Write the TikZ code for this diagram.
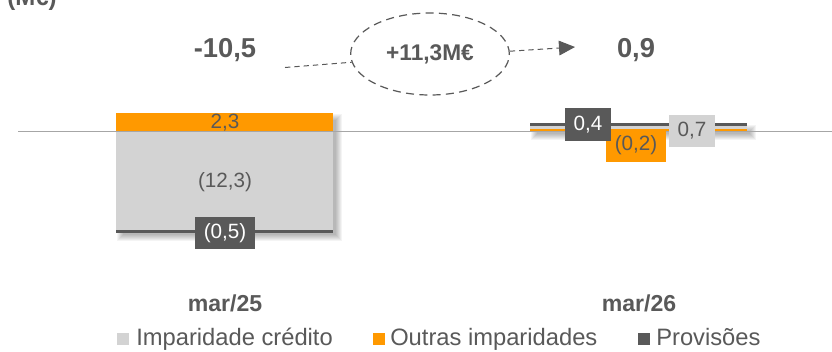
\documentclass[tikz,border=0pt]{standalone}
\usepackage{fontspec}
\setmainfont{Liberation Sans}
\usetikzlibrary{shapes.geometric,arrows.meta}
\definecolor{cOr}{HTML}{FF9900}
\definecolor{cLg}{HTML}{D3D3D3}
\definecolor{cDk}{HTML}{595959}
\definecolor{cAx}{HTML}{A6A6A6}
\tikzset{
  lbl/.style={inner sep=0pt, text=cDk, font=\fontsize{15.5}{18}\selectfont},
  valbox/.style={inner sep=0pt, minimum height=24.5pt, font=\fontsize{15.5}{18}\selectfont},
  big/.style={inner sep=0pt, text=cDk, font=\bfseries\fontsize{20.5}{24}\selectfont},
  cat/.style={inner sep=0pt, text=cDk, font=\bfseries\fontsize{17.3}{20}\selectfont},
  leg/.style={inner sep=0pt, anchor=base west, text=cDk, font=\fontsize{17.8}{20}\selectfont},
  legsq/.style={inner sep=0pt, minimum size=9pt, anchor=south west},
  dline/.style={cDk, line width=0.75pt, dash pattern=on 4pt off 3pt},
}
\newcommand{\softshadow}[4]{%
  \foreach \r in {4,3,2,1,0,-1,-2}{%
    \fill[black, opacity=0.045] ({#1+5-\r},{#2+5-\r}) rectangle ({#3+5+\r},{#4+5+\r});}}
\begin{document}
\begin{tikzpicture}[x=0.75pt,y=-0.75pt]
\useasboundingbox (0,0) rectangle (832,351);
\fill[white] (0,0) rectangle (832,351);

% unit label (cut at top, as in the reference)
\node[inner sep=0pt, anchor=base west, text=cDk, font=\bfseries\fontsize{18}{20}\selectfont] (unit) at (7,5.5) {(M€)};

% shadows
\softshadow{116}{113}{333}{232}
\softshadow{530}{123.5}{747}{131}

% left stacked bar
\fill[cLg] (116,131) rectangle (333,230);
\fill[cOr] (116,113) rectangle (333,131);
\fill[cDk] (116,229.5) rectangle (333,232.5);

% right stacked bar
\fill[cLg] (530,126) rectangle (747,131);
\fill[cOr] (530,129.3) rectangle (747,131);
\fill[cDk] (530,123.3) rectangle (747,126.3);

% axis
\draw[cAx, line width=1.2pt] (18,131.5) -- (832,131.5);

% value labels
\node[lbl] (v23) at (225,122.5) {2,3};
\node[lbl] (v123) at (225,182) {(12,3)};
\node[valbox, fill=cDk, text=white, minimum width=45pt] (v05) at (225,233) {(0,5)};

\node[valbox, fill=cOr, text=cDk, minimum width=45pt] (v02) at (636,145.5) {(0,2)};
\node[valbox, fill=cDk, text=white, minimum width=34.5pt] (v04) at (588,124.5) {0,4};
\node[valbox, fill=cLg, text=cDk, minimum width=34.5pt] (v07) at (692,131) {0,7};

% totals
\node[big] (t1) at (225,50) {-10,5};
\node[big] (t2) at (636,50) {0,9};

% variation ellipse
\node[ellipse, draw=cDk, line width=0.9pt, dash pattern=on 6pt off 4pt,
      minimum width=119pt, minimum height=61.5pt, inner sep=0pt,
      text=cDk, font=\bfseries\fontsize{17}{20}\selectfont] (ell) at (430,54) {+11,3M€};
\coordinate (ls) at (285,67.5);
\coordinate (ae) at (575,47);
\draw[dline] (ls) -- (ell.186);
\draw[dline, -{Triangle[length=12pt,width=11pt]}] (ell.2) -- (ae);

% categories
\node[cat] (c1) at (225,303.5) {mar/25};
\node[cat] (c2) at (639,303.5) {mar/26};

% legend
\node[legsq, fill=cLg] (sq1) at (117,345) {};
\node[leg] (lg1) at (136,345) {Imparidade crédito};
\node[legsq, fill=cOr] (sq2) at (373,345) {};
\node[leg] (lg2) at (390,345) {Outras imparidades};
\node[legsq, fill=cDk] (sq3) at (638,345) {};
\node[leg] (lg3) at (656,345) {Provisões};
\end{tikzpicture}
\end{document}
